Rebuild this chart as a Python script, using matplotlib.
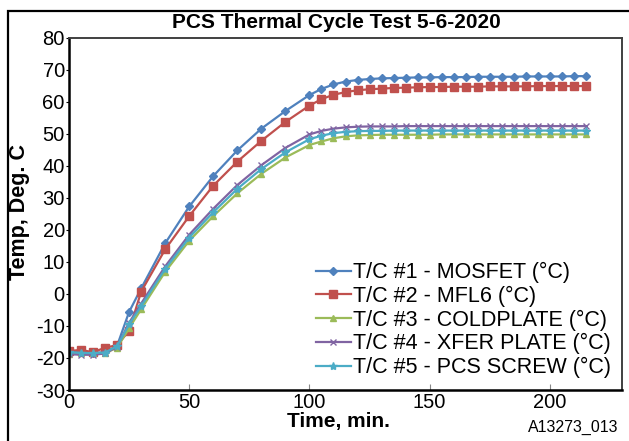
#! /usr/bin/env python3
#
# PCS thermal cycle test, 5-6-2020: five thermocouples vs. time.
#

import numpy as np
import matplotlib
matplotlib.use('agg')
import matplotlib.pyplot as plt
from matplotlib.patches import Rectangle

plt.rcParams['font.family'] = ['Liberation Sans', 'DejaVu Sans']
plt.rcParams['axes.unicode_minus'] = False # plain hyphen, as in the original

##########
## DATA ##
##########

time_min = [0, 5, 10, 15, 20, 25, 30, 40, 50, 60, 70, 80, 90, 100,
            105, 110, 115, 120, 125, 130, 135, 140, 145, 150, 155, 160,
            165, 170, 175, 180, 185, 190, 195, 200, 205, 210, 215]

tc1_mosfet = [-18.0, -18.2, -18.4, -18.2, -16.2, -5.6, 1.7, 15.8, 27.3, 36.8, 44.8, 51.6, 57.1, 62.1,
              64.0, 65.4, 66.3, 66.8, 67.1, 67.3, 67.4, 67.5, 67.6, 67.6, 67.7, 67.7,
              67.7, 67.8, 67.8, 67.8, 67.8, 67.9, 67.9, 67.9, 67.9, 68.0, 68.0]
tc2_mfl6 = [-17.8, -17.5, -18.2, -16.8, -16.0, -11.5, 0.7, 13.9, 24.3, 33.8, 41.3, 47.8, 53.7, 58.8,
            60.8, 62.2, 63.0, 63.6, 63.9, 64.1, 64.3, 64.4, 64.5, 64.6, 64.6, 64.7,
            64.7, 64.7, 64.8, 64.8, 64.8, 64.8, 64.9, 64.9, 64.9, 64.9, 64.9]
tc3_coldplate = [-18.8, -18.5, -18.6, -18.5, -16.8, -10.7, -4.8, 6.9, 16.6, 24.3, 31.4, 37.5, 42.6, 46.5,
                 47.6, 48.6, 49.2, 49.5, 49.6, 49.7, 49.7, 49.7, 49.7, 49.7, 49.8, 49.8,
                 49.8, 49.8, 49.8, 49.8, 49.8, 49.8, 49.8, 49.8, 49.8, 49.8, 49.8]
tc4_xfer = [-18.8, -19.0, -19.0, -18.6, -16.5, -9.0, -3.0, 8.6, 18.5, 26.6, 34.0, 40.2, 45.6, 49.8,
            50.9, 51.6, 52.0, 52.2, 52.3, 52.3, 52.3, 52.4, 52.4, 52.4, 52.4, 52.4,
            52.4, 52.4, 52.4, 52.4, 52.4, 52.4, 52.4, 52.4, 52.4, 52.4, 52.4]
tc5_screw = [-18.2, -18.4, -18.5, -18.3, -16.3, -9.5, -3.8, 7.8, 17.6, 25.5, 32.8, 39.0, 44.2, 48.3,
             49.4, 50.2, 50.6, 50.8, 50.9, 50.9, 51.0, 51.0, 51.0, 51.0, 51.0, 51.0,
             51.0, 51.0, 51.0, 51.0, 51.0, 51.0, 51.0, 51.0, 51.0, 51.0, 51.0]

labels = ['T/C #1 - MOSFET (°C)', 'T/C #2 - MFL6 (°C)', 'T/C #3 - COLDPLATE (°C)',
          'T/C #4 - XFER PLATE (°C)', 'T/C #5 - PCS SCREW (°C)']
series = [tc1_mosfet, tc2_mfl6, tc3_coldplate, tc4_xfer, tc5_screw]

colors = ['#4F81BD', '#C0504D', '#9BBB59', '#8064A2', '#4BACC6']
markers = ['D', 's', '^', 'x', '*']
msizes = [4, 6, 5, 5, 6]

##############
## Plotting ##
##############

fig = plt.figure(figsize=(6.29, 4.41), dpi=100)
ax = fig.add_axes([69/629, 1-390/441, (622-69)/629, (390-37.7)/441])

for y, lab, c, m, ms in zip(series, labels, colors, markers, msizes):
	ax.plot(time_min, y, color=c, marker=m, markersize=ms, linewidth=1.6,
			markeredgewidth=1.0, label=lab)

ax.set_xlim(0, 230)
ax.set_ylim(-30, 80)
ax.set_xticks([0, 50, 100, 150, 200])
ax.set_yticks(np.arange(-30, 81, 10))
ax.tick_params(axis='x', direction='in', length=4, width=0.8, labelsize=14.5, pad=2,
			   colors='#888888', labelcolor='black')
ax.tick_params(axis='y', direction='out', length=2, width=0.8, labelsize=14.5, pad=1)

for s in ['left', 'bottom']:
	ax.spines[s].set_linewidth(1.8)
	ax.spines[s].set_color('black')
for s in ['top', 'right']:
	ax.spines[s].set_linewidth(1.4)
	ax.spines[s].set_color('#404040')

fig.text(336/629, 1-23/441, 'PCS Thermal Cycle Test 5-6-2020', ha='center', va='center',
		 fontsize=15, fontweight='bold')
fig.text(338/629, 1-421/441, 'Time, min.', ha='center', va='center',
		 fontsize=15, fontweight='bold')
fig.text(20/629, 1-212/441, 'Temp, Deg. C', ha='center', va='center', rotation=90,
		 fontsize=15.5, fontweight='bold')
fig.text(618/629, 1-427/441, 'A13273_013', ha='right', va='center', fontsize=11.5)

leg = ax.legend(loc='upper left', bbox_to_anchor=(0.447, 0.363), frameon=False, fontsize=15.5,
				handlelength=1.6, handletextpad=0.1, labelspacing=0.12, borderaxespad=0,
				borderpad=0)

# outer frame round the whole chart
fig.patches.append(Rectangle((8/629, -0.05), 1.2, 1-11/441+0.05, transform=fig.transFigure,
							 fill=False, edgecolor='black', linewidth=1.6))

fig.savefig('out.png', dpi=100)

# EOF
